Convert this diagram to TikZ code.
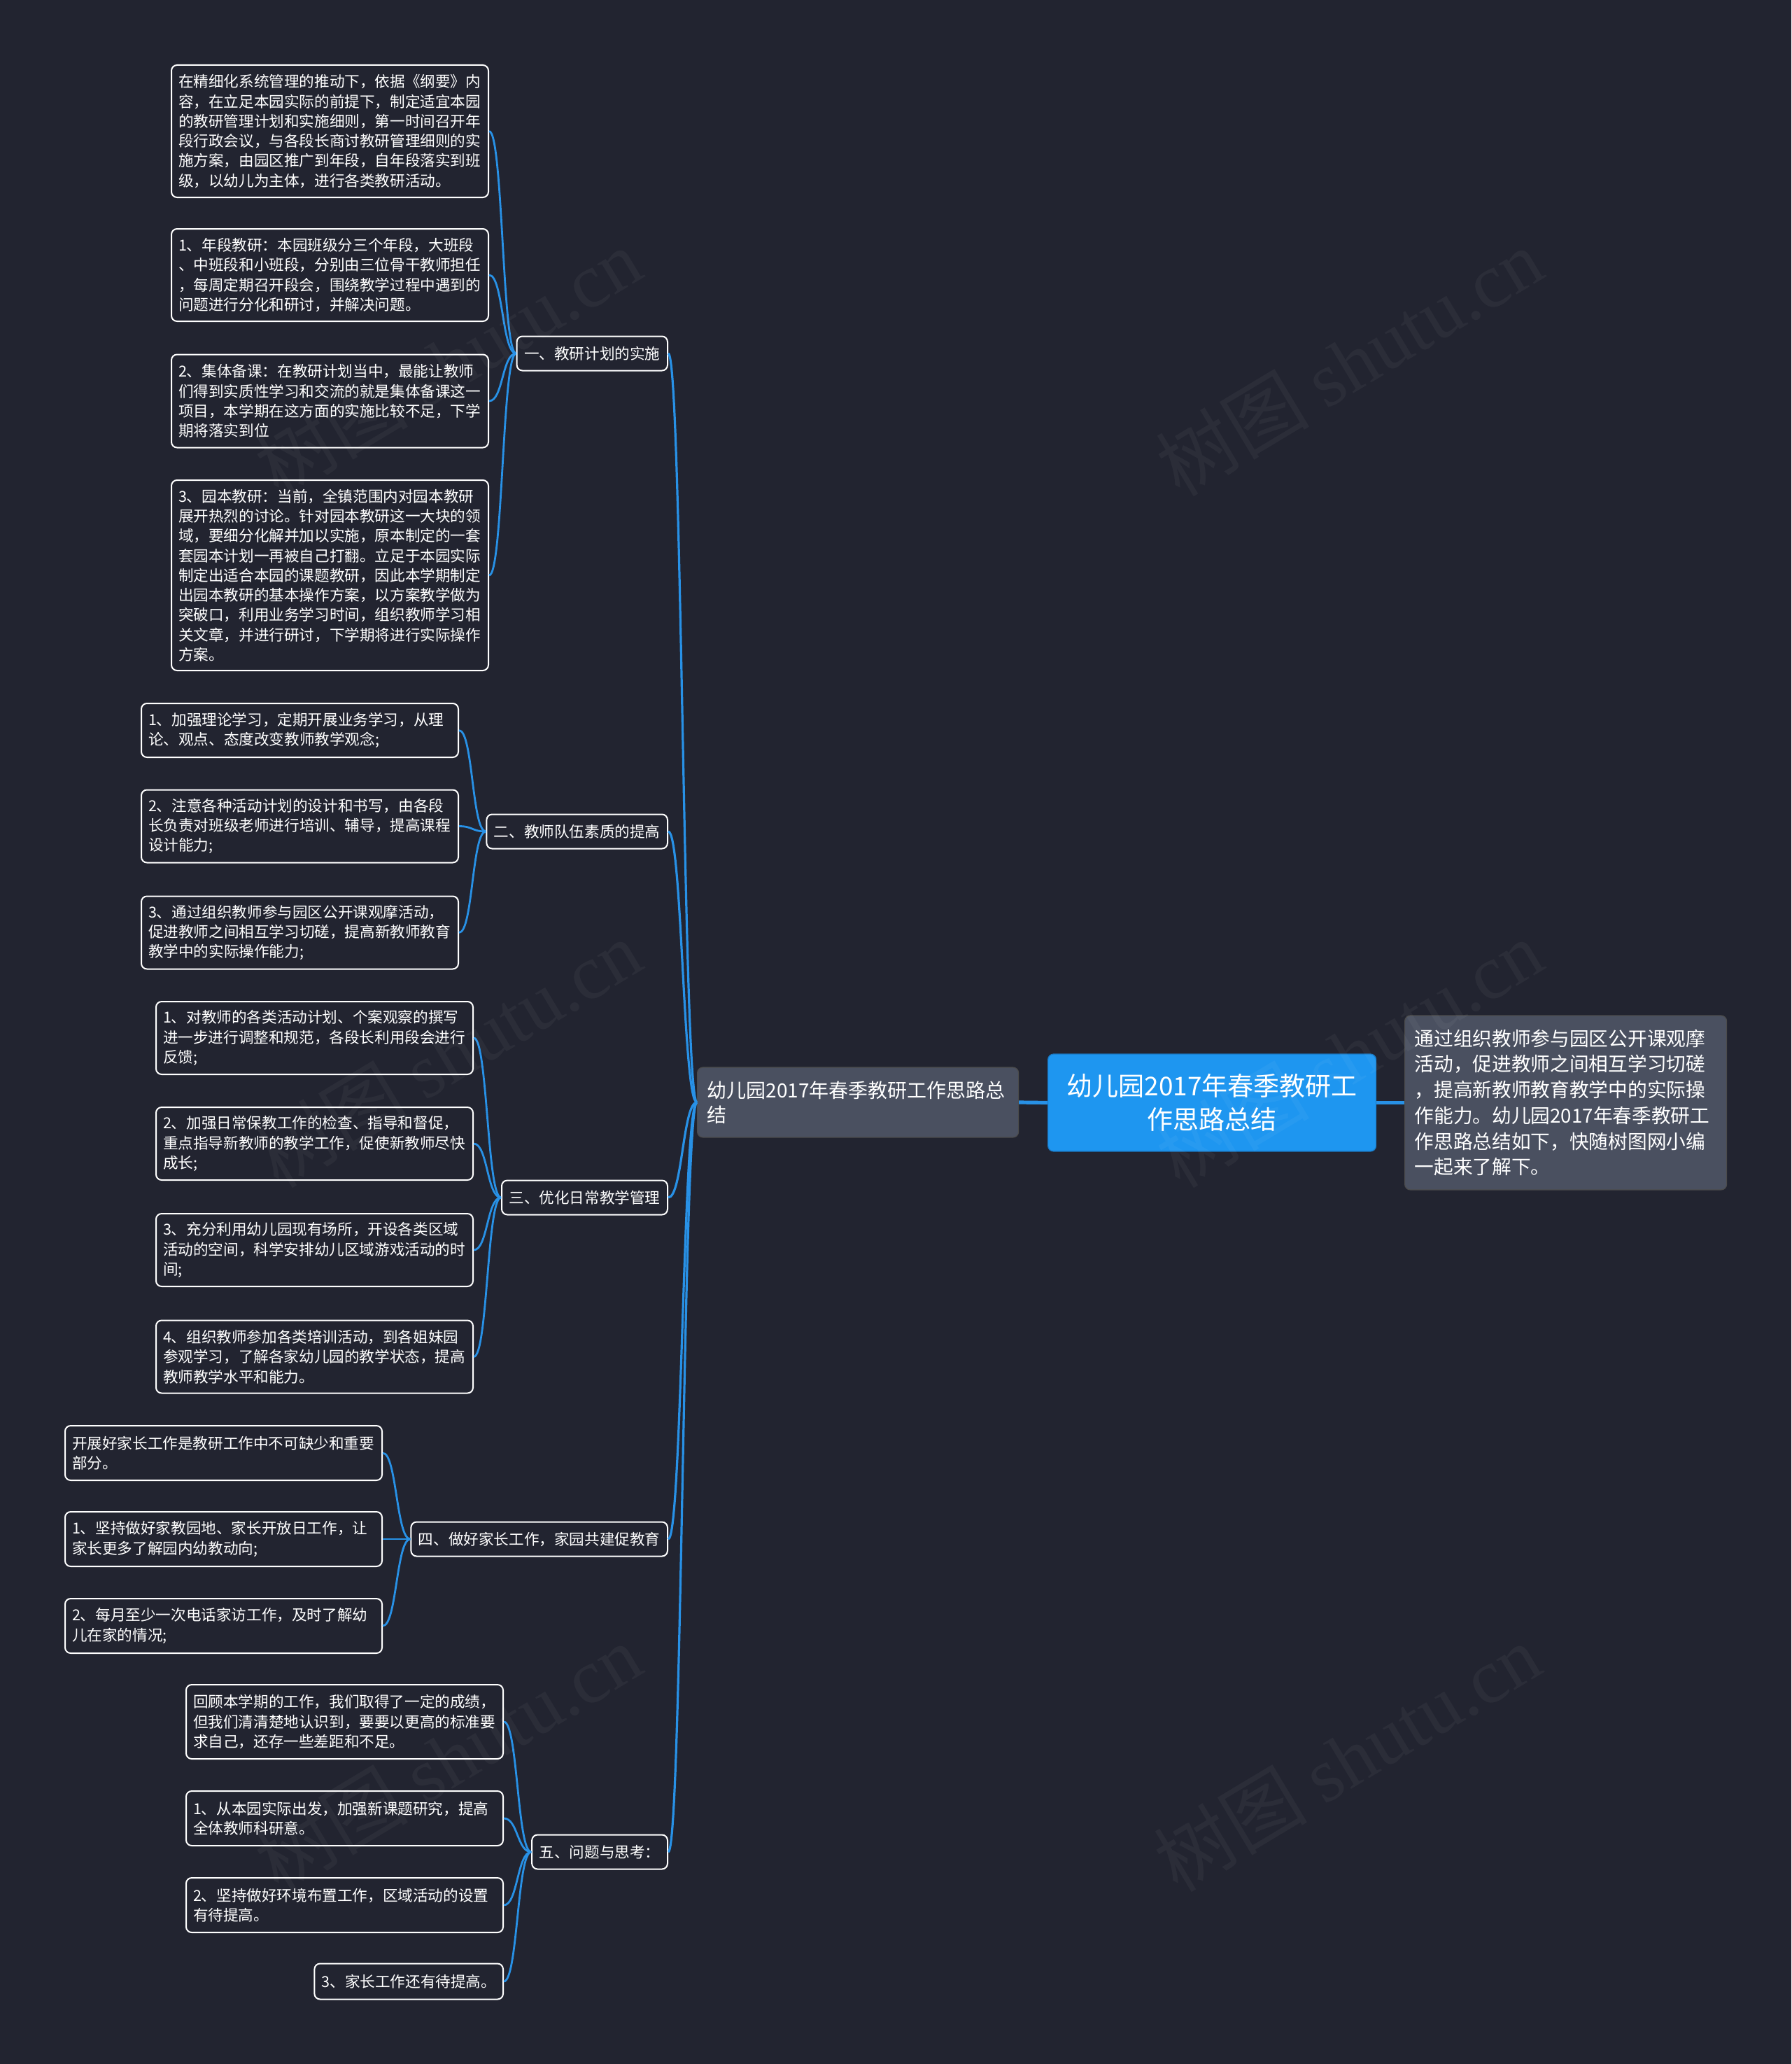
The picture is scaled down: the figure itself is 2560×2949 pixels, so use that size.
\documentclass[tikz,border=0pt]{standalone}
\usepackage{fontspec}
\setmainfont{Noto Sans CJK SC}
\newfontfamily\wmlatin{Liberation Serif}
\definecolor{bg}{HTML}{222430}
\definecolor{linkblue}{HTML}{2891E6}
\definecolor{grayfill}{HTML}{4A5060}
\definecolor{rootfill}{HTML}{1E96F0}
\definecolor{rootedge}{HTML}{1A78C2}
\begin{document}
\begin{tikzpicture}[x=0.5pt,y=-0.5pt,
  leaf/.style={draw=white, line width=1pt, rounded corners=4pt, fill=bg, text=white,
    font=\fontsize{10.8pt}{14.15pt}\selectfont, align=left, text width=216.5pt,
    inner xsep=5pt, inner ysep=1pt, anchor=west},
  shortleaf/.style={draw=white, line width=1pt, rounded corners=4pt, fill=bg, text=white,
    font=\fontsize{10.8pt}{14.15pt}\selectfont, inner xsep=5pt, inner ysep=1pt,
    anchor=east, minimum height=25.5pt},
  branch/.style={draw=white, line width=1pt, rounded corners=4pt, fill=bg, text=white,
    font=\fontsize{10.8pt}{14.15pt}\selectfont, inner xsep=5.25pt, inner ysep=1pt,
    minimum height=24.5pt, anchor=east},
  mainbox/.style={draw=black!70, line width=0.6pt, rounded corners=4pt, fill=grayfill, text=white,
    font=\fontsize{14pt}{17.5pt}\selectfont, align=left, text width=215.5pt,
    inner xsep=7pt, inner ysep=1pt, minimum height=50pt, anchor=west},
  notebox/.style={draw=black!70, line width=0.6pt, rounded corners=4pt, fill=grayfill, text=white,
    font=\fontsize{13.85pt}{18.35pt}\selectfont, align=left, text width=216pt,
    inner xsep=7pt, inner ysep=1pt, minimum height=124.5pt, anchor=west},
  rootbox/.style={draw=rootedge, line width=0.6pt, rounded corners=4pt, fill=rootfill, text=white,
    font=\fontsize{18.5pt}{24pt}\selectfont, align=center, minimum width=234.5pt,
    minimum height=69.5pt, anchor=west},
  link/.style={draw=linkblue, line width=1.4pt},
  trunk/.style={draw=linkblue, line width=1.6pt},
  biglink/.style={draw=linkblue, line width=2.6pt},
  wm/.style={text=white, opacity=0.045, rotate=31, font=\fontsize{55pt}{55pt}\selectfont}
]
\fill[bg] (0,0) rectangle (2560,2949);
\useasboundingbox (0,0) rectangle (2560,2949);

% central nodes
\node[rootbox] (root) at (1497,1575.5) {幼儿园2017年春季教研工\\作思路总结};
\node[mainbox] (main) at (996,1575) {幼儿园2017年春季教研工作思路总\\结};
\node[notebox] (note) at (2007,1575.5) {通过组织教师参与园区公开课观摩\\活动，促进教师之间相互学习切磋\\，提高新教师教育教学中的实际操\\作能力。幼儿园2017年春季教研工\\作思路总结如下，快随树图网小编\\一起来了解下。};

% branches
\node[branch] (b1) at (955,505) {一、教研计划的实施};
\node[branch] (b2) at (955,1188) {二、教师队伍素质的提高};
\node[branch] (b3) at (955,1711) {三、优化日常教学管理};
\node[branch] (b4) at (955,2199) {四、做好家长工作，家园共建促教育};
\node[branch] (b5) at (955,2646) {五、问题与思考：};

% leaves of branch 1
\node[leaf, minimum height=94.5pt] (l1a) at (244,187.5) {在精细化系统管理的推动下，依据《纲要》内\\容，在立足本园实际的前提下，制定适宜本园\\的教研管理计划和实施细则，第一时间召开年\\段行政会议，与各段长商讨教研管理细则的实\\施方案，由园区推广到年段，自年段落实到班\\级，以幼儿为主体，进行各类教研活动。};
\node[leaf, minimum height=66pt] (l1b) at (244,393) {1、年段教研：本园班级分三个年段，大班段\\、中班段和小班段，分别由三位骨干教师担任\\，每周定期召开段会，围绕教学过程中遇到的\\问题进行分化和研讨，并解决问题。};
\node[leaf, minimum height=66.5pt] (l1c) at (244,573) {2、集体备课：在教研计划当中，最能让教师\\们得到实质性学习和交流的就是集体备课这一\\项目，本学期在这方面的实施比较不足，下学\\期将落实到位};
\node[leaf, minimum height=136pt] (l1d) at (244,822) {3、园本教研：当前，全镇范围内对园本教研\\展开热烈的讨论。针对园本教研这一大块的领\\域，要细分化解并加以实施，原本制定的一套\\套园本计划一再被自己打翻。立足于本园实际\\制定出适合本园的课题教研，因此本学期制定\\出园本教研的基本操作方案，以方案教学做为\\突破口，利用业务学习时间，组织教师学习相\\关文章，并进行研讨，下学期将进行实际操作\\方案。};

% leaves of branch 2
\node[leaf, minimum height=38.5pt] (l2a) at (201,1043.5) {1、加强理论学习，定期开展业务学习，从理\\论、观点、态度改变教师教学观念;};
\node[leaf, minimum height=52pt] (l2b) at (201,1180.5) {2、注意各种活动计划的设计和书写，由各段\\长负责对班级老师进行培训、辅导，提高课程\\设计能力;};
\node[leaf, minimum height=52pt] (l2c) at (201,1332.5) {3、通过组织教师参与园区公开课观摩活动，\\促进教师之间相互学习切磋，提高新教师教育\\教学中的实际操作能力;};

% leaves of branch 3
\node[leaf, minimum height=52pt] (l3a) at (222,1483) {1、对教师的各类活动计划、个案观察的撰写\\进一步进行调整和规范，各段长利用段会进行\\反馈;};
\node[leaf, minimum height=52pt] (l3b) at (222,1634) {2、加强日常保教工作的检查、指导和督促，\\重点指导新教师的教学工作，促使新教师尽快\\成长;};
\node[leaf, minimum height=52pt] (l3c) at (222,1786) {3、充分利用幼儿园现有场所，开设各类区域\\活动的空间，科学安排幼儿区域游戏活动的时\\间;};
\node[leaf, minimum height=52pt] (l3d) at (222,1938.5) {4、组织教师参加各类培训活动，到各姐妹园\\参观学习，了解各家幼儿园的教学状态，提高\\教师教学水平和能力。};

% leaves of branch 4
\node[leaf, minimum height=39pt] (l4a) at (92,2076) {开展好家长工作是教研工作中不可缺少和重要\\部分。};
\node[leaf, minimum height=39pt] (l4b) at (92,2199) {1、坚持做好家教园地、家长开放日工作，让\\家长更多了解园内幼教动向;};
\node[leaf, minimum height=39pt] (l4c) at (92,2323) {2、每月至少一次电话家访工作，及时了解幼\\儿在家的情况;};

% leaves of branch 5
\node[leaf, minimum height=53pt] (l5a) at (265,2460) {回顾本学期的工作，我们取得了一定的成绩，\\但我们清清楚地认识到，要要以更高的标准要\\求自己，还存一些差距和不足。};
\node[leaf, minimum height=39pt] (l5b) at (265,2598) {1、从本园实际出发，加强新课题研究，提高\\全体教师科研意。};
\node[leaf, minimum height=39pt] (l5c) at (265,2722) {2、坚持做好环境布置工作，区域活动的设置\\有待提高。};
\node[shortleaf] (l5d) at (720,2831) {3、家长工作还有待提高。};

% connectors
\draw[biglink] (main.east) -- (root.west);
\draw[biglink] (root.east) -- (note.west);
\foreach \b in {b1,b2,b3,b4,b5}
  \draw[trunk] (main.west) .. controls +(-20,0) and +(20,0) .. (\b.east);
\foreach \l in {l1a,l1b,l1c,l1d}
  \draw[link] (b1.west) .. controls +(-20,0) and +(20,0) .. (\l.east);
\foreach \l in {l2a,l2b,l2c}
  \draw[link] (b2.west) .. controls +(-20,0) and +(20,0) .. (\l.east);
\foreach \l in {l3a,l3b,l3c,l3d}
  \draw[link] (b3.west) .. controls +(-20,0) and +(20,0) .. (\l.east);
\foreach \l in {l4a,l4b,l4c}
  \draw[link] (b4.west) .. controls +(-20,0) and +(20,0) .. (\l.east);
\foreach \l in {l5a,l5b,l5c,l5d}
  \draw[link] (b5.west) .. controls +(-20,0) and +(20,0) .. (\l.east);

% watermarks
\node[wm] (wm1) at (1928,517) {树图 {\wmlatin shutu.cn}};
\node[wm] (wm2) at (1928,1505) {树图 {\wmlatin shutu.cn}};
\node[wm] (wm3) at (1925,2511) {树图 {\wmlatin shutu.cn}};
\node[wm] (wm4) at (640,517) {树图 {\wmlatin shutu.cn}};
\node[wm] (wm5) at (640,1505) {树图 {\wmlatin shutu.cn}};
\node[wm] (wm6) at (640,2511) {树图 {\wmlatin shutu.cn}};
\end{tikzpicture}
\end{document}
